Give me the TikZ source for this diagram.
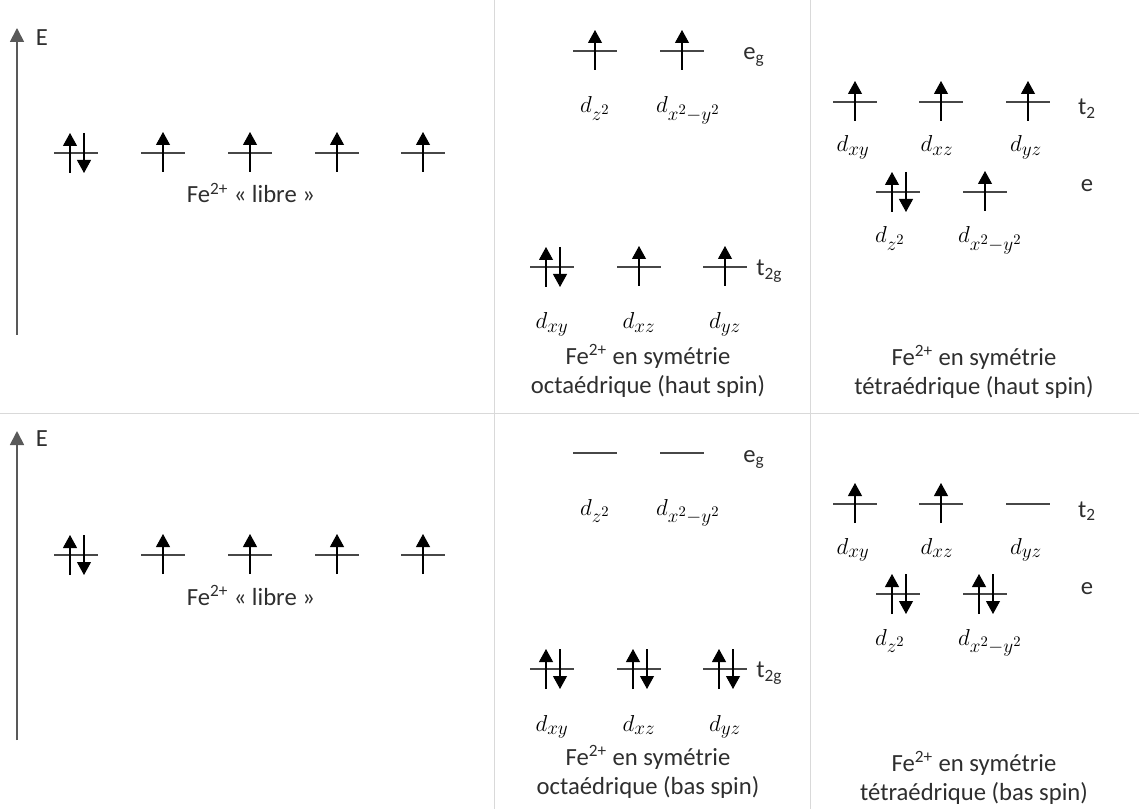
\documentclass[tikz,border=0pt]{standalone}
\usepackage{fontspec}
\setmainfont{Carlito}
\DeclareMathSizes{19}{19}{15}{11}
\usetikzlibrary{arrows.meta}
\begin{document}
\begin{tikzpicture}[x=0.75pt,y=-0.75pt,
  orbline/.style={line width=1.5pt,draw=black!72},
  spin/.style={line width=0.8pt,black,-{Triangle[width=10.5pt,length=9.75pt]}},
  sepline/.style={line width=0.75pt,draw=black!15},
  axisline/.style={line width=1.3pt,draw=black!65,-{Triangle[width=10.5pt,length=10.5pt]}},
  txt/.style={font=\fontsize{18.5}{22}\selectfont,text=black!82,inner sep=0pt,anchor=base},
  mlab/.style={font=\fontsize{19}{23}\selectfont,inner sep=0pt,anchor=base},
  pics/orbE/.style={code={\draw[orbline] (-22,0)--(22,0);}},
  pics/orbU/.style={code={\draw[orbline] (-22,0)--(22,0); \draw[spin] (0,19)--(0,-21);}},
  pics/orbP/.style={code={\draw[orbline] (-22,0)--(22,0); \draw[spin] (-6,20)--(-6,-20); \draw[spin] (8,-20)--(8,20);}},
]
\useasboundingbox (0,0) rectangle (1139,809);
% separators
\coordinate (h1) at (0,413); \coordinate (h2) at (1139,413);
\coordinate (v1a) at (494,0); \coordinate (v1b) at (494,809);
\coordinate (v2a) at (810,0); \coordinate (v2b) at (810,809);
\draw[sepline] (h1) -- (h2);
\draw[sepline] (v1a) -- (v1b);
\draw[sepline] (v2a) -- (v2b);

% ================= TOP PANEL =================
\coordinate (axT0) at (17,335); \coordinate (axT1) at (17,28);
\draw[axisline] (axT0) -- (axT1);
\node[txt,anchor=center] (ET) at (42,38) {E};
\pic at (76,153) {orbP};
\pic at (163,153) {orbU};
\pic at (250,153) {orbU};
\pic at (337,153) {orbU};
\pic at (423,153) {orbU};
\node[txt] (libreT) at (251,203) {Fe\textsuperscript{2+} « libre »};

% octahedral high spin
\pic at (595,51) {orbU};
\pic at (682,51) {orbU};
\node[txt] (egT) at (754,60) {e\textsubscript{g}};
\node[mlab] (dz2T) at (595,113) {$d_{z^2}$};
\node[mlab] (dx2T) at (688,113) {$d_{x^2-y^2}$};
\pic at (552,267) {orbP};
\pic at (639,267) {orbU};
\pic at (725,267) {orbU};
\node[txt,anchor=west] (t2gT) at (756,271) {t\textsubscript{2g}};
\node[mlab] (dxyT) at (552,329) {$d_{xy}$};
\node[mlab] (dxzT) at (639,329) {$d_{xz}$};
\node[mlab] (dyzT) at (725,329) {$d_{yz}$};
\node[txt] (octT1) at (648,364) {Fe\textsuperscript{2+} en symétrie};
\node[txt] (octT2) at (648,393) {octaédrique (haut spin)};

% tetrahedral high spin
\pic at (855,102) {orbU};
\pic at (941,102) {orbU};
\pic at (1028,102) {orbU};
\node[txt] (t2T) at (1087,115) {t\textsubscript{2}};
\node[mlab] (dxyR) at (853,152) {$d_{xy}$};
\node[mlab] (dxzR) at (937,152) {$d_{xz}$};
\node[mlab] (dyzR) at (1026,152) {$d_{yz}$};
\pic at (898,192) {orbP};
\pic at (985,192) {orbU};
\node[txt] (eT) at (1087,192) {e};
\node[mlab] (dz2R) at (890,243) {$d_{z^2}$};
\node[mlab] (dx2R) at (990,243) {$d_{x^2-y^2}$};
\node[txt] (tetT1) at (974,365) {Fe\textsuperscript{2+} en symétrie};
\node[txt] (tetT2) at (974,394) {tétraédrique (haut spin)};

% ================= BOTTOM PANEL =================
\coordinate (axB0) at (17,740); \coordinate (axB1) at (17,431);
\draw[axisline] (axB0) -- (axB1);
\node[txt,anchor=center] (EB) at (42,439) {E};
\pic at (76,555) {orbP};
\pic at (163,555) {orbU};
\pic at (250,555) {orbU};
\pic at (337,555) {orbU};
\pic at (423,555) {orbU};
\node[txt] (libreB) at (251,605) {Fe\textsuperscript{2+} « libre »};

% octahedral low spin
\pic at (595,453) {orbE};
\pic at (682,453) {orbE};
\node[txt] (egB) at (754,462) {e\textsubscript{g}};
\node[mlab] (dz2B) at (595,515) {$d_{z^2}$};
\node[mlab] (dx2B) at (688,515) {$d_{x^2-y^2}$};
\pic at (552,669) {orbP};
\pic at (639,669) {orbP};
\pic at (725,669) {orbP};
\node[txt,anchor=west] (t2gB) at (756,673) {t\textsubscript{2g}};
\node[mlab] (dxyB) at (552,731) {$d_{xy}$};
\node[mlab] (dxzB) at (639,731) {$d_{xz}$};
\node[mlab] (dyzB) at (725,731) {$d_{yz}$};
\node[txt] (octB1) at (648,765) {Fe\textsuperscript{2+} en symétrie};
\node[txt] (octB2) at (648,794) {octaédrique (bas spin)};

% tetrahedral low spin
\pic at (855,504) {orbU};
\pic at (941,504) {orbU};
\pic at (1028,504) {orbE};
\node[txt] (t2B) at (1087,517) {t\textsubscript{2}};
\node[mlab] (dxyRB) at (853,554) {$d_{xy}$};
\node[mlab] (dxzRB) at (937,554) {$d_{xz}$};
\node[mlab] (dyzRB) at (1026,554) {$d_{yz}$};
\pic at (898,594) {orbP};
\pic at (985,594) {orbP};
\node[txt] (eB) at (1087,594) {e};
\node[mlab] (dz2RB) at (890,645) {$d_{z^2}$};
\node[mlab] (dx2RB) at (990,645) {$d_{x^2-y^2}$};
\node[txt] (tetB1) at (974,771) {Fe\textsuperscript{2+} en symétrie};
\node[txt] (tetB2) at (974,800) {tétraédrique (bas spin)};
\end{tikzpicture}
\end{document}
